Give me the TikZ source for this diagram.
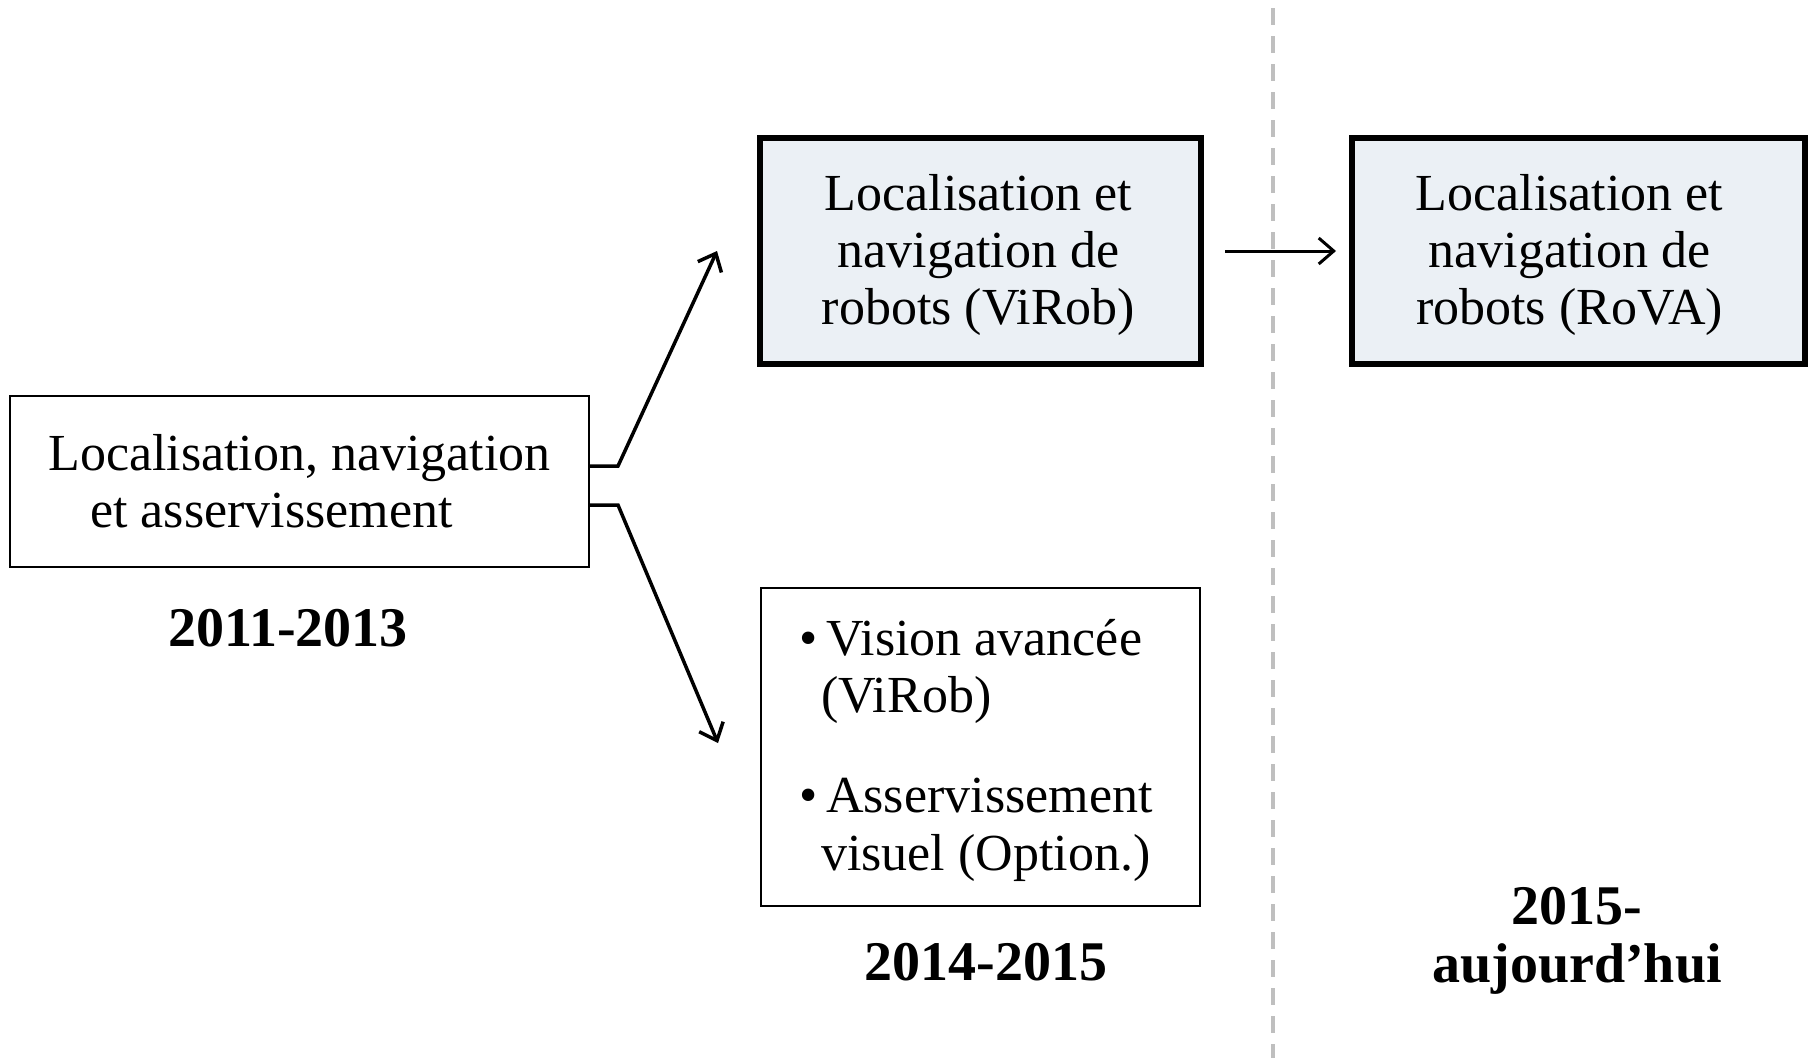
\documentclass[tikz,border=0pt]{standalone}
\usepackage{fontspec}
\setmainfont{Liberation Serif}
\usetikzlibrary{arrows.meta}
\definecolor{boxfill}{RGB}{235,240,245}
\definecolor{dashgray}{RGB}{191,191,191}
\begin{document}
\begin{tikzpicture}[x=1pt,y=-1pt,
  thinbox/.style={draw=black, line width=2pt, fill=white, inner sep=0pt},
  thickbox/.style={draw=black, line width=6pt, fill=boxfill, inner sep=0pt},
  boxtext/.style={font=\fontsize{52}{57}\selectfont, align=center, inner sep=0pt},
  itemtext/.style={font=\fontsize{52}{57}\selectfont, inner sep=0pt},
  yeartext/.style={font=\fontsize{56}{58}\selectfont\bfseries, align=center, inner sep=0pt},
  conn/.style={line width=3.5pt, -{Straight Barb[length=15pt,width=26pt]}},
  hconn/.style={line width=3pt, -{Straight Barb[length=15pt,width=26pt]}},
  dashline/.style={draw=dashgray, line width=4pt, dash pattern=on 17pt off 11pt, dash phase=20pt}
]
\useasboundingbox (0,0) rectangle (1809,1058);

% timeline separator
\coordinate (dtop) at (1273,0);
\coordinate (dbot) at (1273,1058);
\draw[dashline] (dtop) -- (dbot);

% boxes
\node[thinbox, boxtext, minimum width=579pt, minimum height=171pt] (lb) at (299.5,481.5)
  {Localisation, navigation\\et asservissement\hspace*{56pt}};
\node[thickbox, minimum width=441pt, minimum height=226pt] (virob) at (980.5,251) {};
\node[boxtext] (virobtext) at ([xshift=-2pt,yshift=-4pt]virob.center)
  {Localisation et\\navigation de\\robots (ViRob)};
\node[thickbox, minimum width=453pt, minimum height=226pt] (rova) at (1578.5,251) {};
\node[boxtext] (rovatext) at ([xshift=-9pt,yshift=-4pt]rova.center)
  {Localisation et\\navigation de\\robots (RoVA)};
\node[thinbox, minimum width=439pt, minimum height=318pt] (vis) at (980.5,747) {};

% bullet items
\node[itemtext, anchor=base west] (b1) at (799,655) {\textbullet};
\node[itemtext, anchor=base west] (t1) at (826,655) {Vision avancée};
\node[itemtext, anchor=base west] (t1b) at (821,712) {(ViRob)};
\node[itemtext, anchor=base west] (b2) at (799,812) {\textbullet};
\node[itemtext, anchor=base west] (t2) at (826,812) {Asservissement};
\node[itemtext, anchor=base west] (t2b) at (821,870) {visuel (Option.)};

% years
\node[yeartext, anchor=base] (y1) at (288,646) {2011-2013};
\node[yeartext, anchor=base] (y2) at (986,980) {2014-2015};
\node[yeartext] (y3) at (1577,941) {2015-\\aujourd’hui};

% connectors
\draw[conn] ([yshift=15.5pt]lb.east) -- ++(28,0) -- ([xshift=-40pt]virob.west);
\draw[conn] ([yshift=-23.5pt]lb.east) -- ++(28,0) -- ([xshift=-42pt,yshift=4pt]vis.west);
\draw[hconn] ([xshift=21pt]virob.east) -- ([xshift=-13pt]rova.west);
\end{tikzpicture}
\end{document}
